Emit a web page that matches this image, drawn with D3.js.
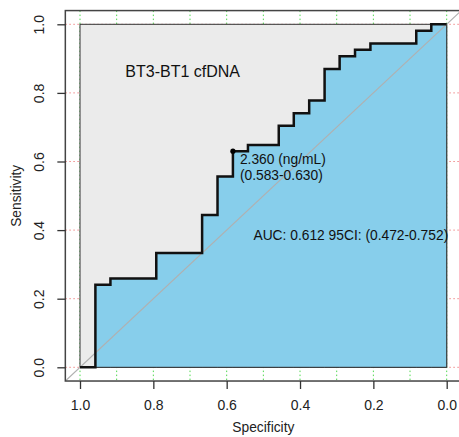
<!DOCTYPE html>
<html>
<head>
<meta charset="utf-8">
<script src="https://cdn.jsdelivr.net/npm/d3@7"></script>
<style>
  body { margin: 0; background: #fff; }
  text { font-family: "Liberation Sans", Arial, Helvetica, sans-serif; }
</style>
</head>
<body>
<div id="chart"></div>
<script>
// ROC curve vertices (specificity, sensitivity), drawn as steps
const spec = [1, 0.958, 0.917, 0.792, 0.667, 0.625, 0.583, 0.542, 0.458, 0.417, 0.375, 0.333, 0.292, 0.250, 0.208, 0.083, 0.042, 0];
const sens = [0, 0.241, 0.259, 0.333, 0.444, 0.556, 0.630, 0.648, 0.704, 0.741, 0.778, 0.870, 0.907, 0.926, 0.944, 0.981, 1, 1];

const xTicks = [1.0, 0.8, 0.6, 0.4, 0.2, 0.0];
const yTicks = [0.0, 0.2, 0.4, 0.6, 0.8, 1.0];
const xGrid = d3.range(0, 11).map(i => i / 10);
const yGrid = [0, 0.2, 0.4, 0.6, 0.8, 1.0];

const bestThres = { spec: 0.583, sens: 0.630, label: "2.360 (ng/mL)", ci: "(0.583-0.630)" };
const title = "BT3-BT1 cfDNA";
const aucText = "AUC: 0.612 95CI: (0.472-0.752)";

const width = 459, height = 437;

const svg = d3.select("#chart")
  .append("svg")
  .attr("width", width)
  .attr("height", height);

const x = d3.scaleLinear().domain([1, 0]).range([80, 446.7]);
const y = d3.scaleLinear().domain([0, 1]).range([367.3, 24.3]);

// plot box (4% padding like R)
const bx0 = x(1.04), bx1 = x(-0.04), by0 = y(-0.04), by1 = y(1.04);

svg.append("clipPath").attr("id", "box")
  .append("rect")
  .attr("x", bx0).attr("y", by1)
  .attr("width", bx1 - bx0).attr("height", by0 - by1);

const plot = svg.append("g").attr("clip-path", "url(#box)");

// grid
plot.selectAll(".vgrid")
  .data(xGrid)
  .enter()
  .append("line")
  .attr("x1", d => x(d)).attr("x2", d => x(d))
  .attr("y1", by1).attr("y2", by0)
  .attr("stroke", "#4fd84f")
  .attr("stroke-width", 1)
  .attr("stroke-dasharray", "1.5,2.5");

plot.selectAll(".hgrid")
  .data(yGrid)
  .enter()
  .append("line")
  .attr("x1", bx0).attr("x2", bx1)
  .attr("y1", d => y(d)).attr("y2", d => y(d))
  .attr("stroke", "#f08a8a")
  .attr("stroke-width", 1)
  .attr("stroke-dasharray", "1.5,2.5");

// max auc polygon
plot.append("rect")
  .attr("x", x(1)).attr("y", y(1))
  .attr("width", x(0) - x(1)).attr("height", y(0) - y(1))
  .attr("fill", "#ebebeb")
  .attr("stroke", "#333")
  .attr("stroke-width", 1);

// auc polygon
const pts = spec.map((s, i) => [s, sens[i]]);
const area = d3.area()
  .x(d => x(d[0]))
  .y0(y(0))
  .y1(d => y(d[1]))
  .curve(d3.curveStepAfter);

plot.append("path")
  .attr("d", area(pts))
  .attr("fill", "#87ceeb")
  .attr("stroke", "#333")
  .attr("stroke-width", 1);

// identity line
plot.append("line")
  .attr("x1", x(1.04)).attr("y1", y(-0.04))
  .attr("x2", x(-0.04)).attr("y2", y(1.04))
  .attr("stroke", "#b0b0b0")
  .attr("stroke-width", 1.2);

// ROC curve
const line = d3.line()
  .x(d => x(d[0]))
  .y(d => y(d[1]))
  .curve(d3.curveStepAfter);

plot.append("path")
  .attr("d", line(pts))
  .attr("fill", "none")
  .attr("stroke", "#111")
  .attr("stroke-width", 2.5);

// best threshold point
plot.append("circle")
  .attr("cx", x(bestThres.spec))
  .attr("cy", y(bestThres.sens))
  .attr("r", 2.6)
  .attr("fill", "#000");

svg.append("text")
  .attr("x", x(bestThres.spec) + 7)
  .attr("y", y(bestThres.sens) + 12.5)
  .attr("font-size", "13.8px")
  .attr("fill", "#111")
  .text(bestThres.label);

svg.append("text")
  .attr("x", x(bestThres.spec) + 7)
  .attr("y", y(bestThres.sens) + 29)
  .attr("font-size", "13.8px")
  .attr("fill", "#111")
  .text(bestThres.ci);

svg.append("text")
  .attr("x", x(0.527))
  .attr("y", y(0.5) + 44)
  .attr("font-size", "13.8px")
  .attr("fill", "#111")
  .text(aucText);

svg.append("text")
  .attr("x", x(0.72))
  .attr("y", y(0.846))
  .attr("text-anchor", "middle")
  .attr("font-size", "16px")
  .attr("fill", "#111")
  .text(title);

// box
svg.append("rect")
  .attr("x", bx0).attr("y", by1)
  .attr("width", bx1 - bx0).attr("height", by0 - by1)
  .attr("fill", "none")
  .attr("stroke", "#444")
  .attr("stroke-width", 1.5);

// axes
const xAxis = svg.append("g")
  .attr("transform", `translate(0,${by0})`)
  .call(d3.axisBottom(x).tickValues(xTicks).tickFormat(d3.format(".1f")).tickSize(8).tickPadding(11));

const yAxis = svg.append("g")
  .attr("transform", `translate(${bx0},0)`)
  .call(d3.axisLeft(y).tickValues(yTicks).tickFormat(d3.format(".1f")).tickSize(8));

[xAxis, yAxis].forEach(g => {
  g.select(".domain").remove();
  g.selectAll(".tick line").attr("stroke", "#333").attr("stroke-width", 1.3);
  g.selectAll("text")
    .attr("font-size", "14px")
    .attr("fill", "#222")
    .style("font-family", "'Liberation Sans', Arial, sans-serif");
});

yAxis.selectAll(".tick text")
  .attr("x", null)
  .attr("dy", null)
  .attr("text-anchor", "middle")
  .attr("transform", "translate(-21,0) rotate(-90)");

// axis titles
svg.append("text")
  .attr("x", (x(1) + x(0)) / 2)
  .attr("y", 432)
  .attr("text-anchor", "middle")
  .attr("font-size", "13.8px")
  .attr("fill", "#222")
  .text("Specificity");

svg.append("text")
  .attr("transform", `translate(21,${(y(0) + y(1)) / 2}) rotate(-90)`)
  .attr("text-anchor", "middle")
  .attr("font-size", "13.8px")
  .attr("fill", "#222")
  .text("Sensitivity");
</script>
</body>
</html>
